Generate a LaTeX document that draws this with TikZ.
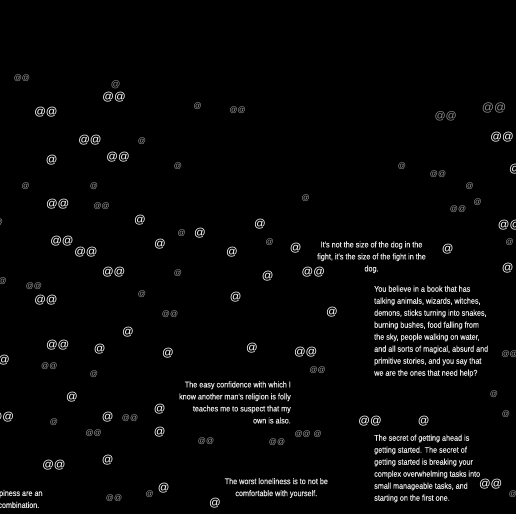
\documentclass[tikz,border=0pt]{standalone}
\usepackage{fontspec}
\setmainfont{Liberation Sans}
\newfontfamily\quotefont[FakeStretch=0.87,FakeBold=0.3]{Liberation Sans}
\usepackage{pdfrender}
\newcommand{\ringat}[1]{\textpdfrender{TextRenderingMode=Stroke,LineWidth=0.45pt}{#1}}
\definecolor{quotegray}{HTML}{E2E2E2}
\definecolor{dimgray}{HTML}{A0A0A0}
\definecolor{fadegray}{HTML}{8C8C8C}

\begin{document}
\begin{tikzpicture}[x=1pt,y=-1pt,
                    atbig/.style={inner sep=0pt,text=white,font=\fontsize{11.5}{12}\selectfont},
                    atsmall/.style={inner sep=0pt,text=dimgray,font=\fontsize{8}{9}\selectfont},
                    atfaded/.style={inner sep=0pt,text=fadegray,font=\fontsize{11}{12}\selectfont},
                    quote/.style={inner sep=0pt,text=quotegray,font=\quotefont\fontsize{8.3}{12}\selectfont}]

  \fill[black] (0,0) rectangle (516,514);
  \useasboundingbox (0,0) rectangle (516,514);

  % scattered @ signs
  \foreach \px/\py [count=\i] in {51.7/160,140/220.5,160/244.3,200/233,260/224.3,232/252.3,
      295.7/248.3,267.7/276,235.7/296.7,332/312.5,128/332.3,99.7/348.7,168/352.7,252/348.5,
      4/360.3,72/396.7,107.7/416.7,159.7/409,159.7/432.3,107.7/460,163.7/488.3,215/503.5,
      423.7/420.7,447.7/248.7,507.7/268.3,515/169.3}
    \node[atbig] (one\i) at (\px,\py) {\ringat{@}};
  \foreach \px/\py [count=\i] in {114/96.7,46/112.3,90/140.3,118/156.7,57.7/204.5,62/240.7,
      86/252.3,113.7/272.3,46/300.3,57.7/344.7,54/464.7,313.3/272.3,305.7/352.3,370/420.7,
      490.7/484,509.5/224.7,2.5/416.7,502/136.7}
    \node[atbig] (two\i) at (\px,\py) {\ringat{@@}};
  \foreach \px/\py [count=\i] in {197.7/105.7,142/141.5,178/165.8,25.7/185.7,94/185.7,
      -1/221.7,181.7/233.5,178/273.5,2.7/281.3,142/293.7,94/374,54/421.7,149.7/494,
      305.7/197.7,269.7/241.7,402/166,469.7/185.7,477.7/201.7,509.7/242,494/394,506/414,
      317.7/434,513/494}
    \node[atsmall] (dot\i) at (\px,\py) {\ringat{@}};
  \foreach \px/\py [count=\i] in {22/77.7,101.7/205.7,34/286,170/314,49.3/365.7,130/417.7,
      93.7/433.3,114/497.7,237.7/110,438/174,458/209.3,317.7/369.7,509.7/353.7,302.7/434,
      206/441.5,277/441.7}
    \node[atsmall] (pair\i) at (\px,\py) {\ringat{@@}};
  \node[atfaded,font=\fontsize{9.5}{10}\selectfont] (fade1) at (115.7,84.3) {\ringat{@}};
  \node[atfaded] (fade2) at (445.7,116.7) {\ringat{@@}};
  \node[atfaded,font=\fontsize{12}{12}\selectfont] (fade3) at (494,108.3) {\ringat{@@}};

  % quotes
  \node[quote,align=center,anchor=north] (dog) at (371.5,241.2)
    {It's not the size of the dog in the\\fight, it's the size of the fight in the\\dog.};
  \node[quote,align=left,anchor=north west] (book) at (374,285.5)
    {You believe in a book that has\\talking animals, wizards, witches,\\demons, sticks turning into snakes,\\
     burning bushes, food falling from\\the sky, people walking on water,\\and all sorts of magical, absurd and\\
     primitive stories, and you say that\\we are the ones that need help?};
  \node[quote,align=right,anchor=north east] (faith) at (291,381.2)
    {The easy confidence with which I\\know another man's religion is folly\\teaches me to suspect that my\\own is also.};
  \node[quote,align=left,anchor=north west] (ahead) at (374,434.5)
    {The secret of getting ahead is\\getting started. The secret of\\getting started is breaking your\\
     complex overwhelming tasks into\\small manageable tasks, and\\starting on the first one.};
  \node[quote,align=center,anchor=north] (alone) at (276.3,477.9)
    {The worst loneliness is to not be\\comfortable with yourself.};
  \node[quote,align=center,anchor=north east] (happy) at (42.7,489.7)
    {ppiness are an\\combination.};

\end{tikzpicture}
\end{document}
